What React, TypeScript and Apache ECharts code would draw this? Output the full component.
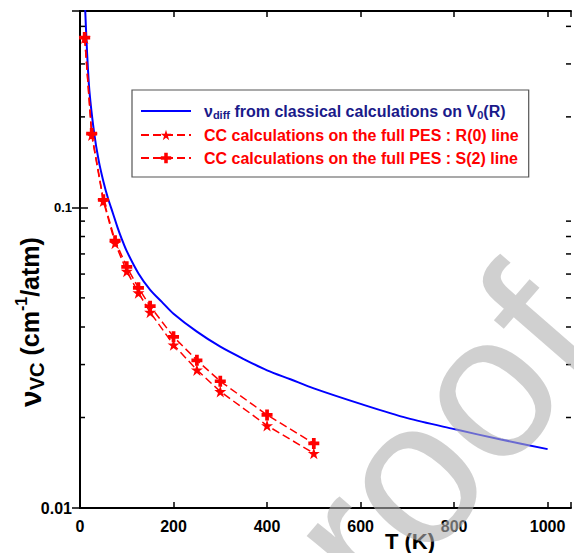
import { useEffect, useRef } from "react";
import * as echarts from "echarts";

// classical curve (blue)
const T_CLASSICAL = [10, 15, 20, 30, 40, 50, 60, 70, 80, 90, 100, 125, 150, 175, 200, 250, 300, 350, 400, 450, 500, 600, 700, 800, 900, 1000];
const V_CLASSICAL = [0.5, 0.33, 0.245, 0.178, 0.143, 0.122, 0.107, 0.096, 0.086, 0.078, 0.0715, 0.0603, 0.0532, 0.0485, 0.0443, 0.0386, 0.0344, 0.0313, 0.0287, 0.0268, 0.025, 0.0222, 0.0199, 0.0183, 0.0169, 0.0157];

// CC calculations (red)
const T_CC = [10, 25, 50, 75, 100, 125, 150, 200, 250, 300, 400, 500];
const V_R0 = [0.366, 0.174, 0.105, 0.076, 0.0613, 0.052, 0.0448, 0.0349, 0.0288, 0.0244, 0.0188, 0.0152];
const V_S2 = [0.367, 0.176, 0.106, 0.0775, 0.0634, 0.054, 0.0469, 0.0371, 0.031, 0.0264, 0.0204, 0.0164];

const MINOR_Y = [0.02, 0.03, 0.04, 0.05, 0.06, 0.07, 0.08, 0.09, 0.2, 0.3, 0.4];

const NAME_CLASSICAL = "vdiff from classical calculations on V0(R)";
const NAME_R0 = "CC calculations on the full PES : R(0) line";
const NAME_S2 = "CC calculations on the full PES : S(2) line";

const FONT = '"Liberation Sans", Arial, sans-serif';
const STAR =
  "path://M50,2 L61.8,38.2 L99.9,38.2 L69.1,60.6 L80.9,96.8 L50,74.4 L19.1,96.8 L30.9,60.6 L0.1,38.2 L38.2,38.2 Z";
const PLUS = "path://M3.3,0h3.4v3.3h3.3v3.4h-3.3v3.3h-3.4v-3.3h-3.3v-3.4h3.3z";

const X_MAX = 1050;

const App: React.FC = () => {
  const chartRef = useRef<HTMLDivElement>(null);

  useEffect(() => {
    if (!chartRef.current) return;
    const chart = echarts.init(chartRef.current, undefined, { renderer: "svg" });

    const axisLine = { show: true, lineStyle: { color: "#000", width: 2 } };

    const option = {
      animation: false,
      grid: { left: 80, right: -3, top: 11, bottom: 45 },
      legend: {
        left: 132,
        top: 90,
        orient: "vertical",
        selectedMode: false,
        padding: [11, 10, 11, 8],
        itemGap: 7,
        itemWidth: 50,
        itemHeight: 13,
        borderColor: "#555",
        borderWidth: 1.2,
        textStyle: { fontFamily: FONT, fontSize: 16, fontWeight: "bold", padding: [0, 0, 0, 8] },
        formatter: (name: string) =>
          name === NAME_CLASSICAL
            ? "{t|\u03bd}{s|diff}{t| from classical calculations on V}{s|0}{t|(R)}"
            : name,
        data: [
          {
            name: NAME_CLASSICAL,
            itemStyle: { opacity: 0 },
            textStyle: {
              color: "#1a1a8a",
              rich: {
                t: { fontFamily: FONT, fontSize: 16, fontWeight: "bold", color: "#1a1a8a", lineHeight: 18 },
                s: { fontFamily: FONT, fontSize: 11, fontWeight: "bold", color: "#1a1a8a", lineHeight: 18, verticalAlign: "bottom", padding: [8, 0, 0, 0] },
              },
            },
          },
          { name: NAME_R0, textStyle: { color: "#ff0000" } },
          { name: NAME_S2, textStyle: { color: "#ff0000" } },
        ],
      },
      xAxis: [
        {
          type: "value",
          min: 0,
          max: X_MAX,
          interval: 200,
          axisLine,
          axisTick: { inside: true, length: 6, lineStyle: { color: "#000", width: 1.5 } },
          splitLine: { show: false },
          axisLabel: {
            fontFamily: FONT,
            fontSize: 16,
            fontWeight: "bold",
            color: "#000",
            margin: 10,
            formatter: (v: number) => (v % 200 === 0 ? String(v) : ""),
          },
        },
        {
          type: "value",
          position: "top",
          min: 0,
          max: X_MAX,
          interval: 200,
          axisLine,
          axisTick: { inside: true, length: 6, lineStyle: { color: "#000", width: 1.5 } },
          splitLine: { show: false },
          axisLabel: { show: false },
        },
      ],
      yAxis: [
        {
          type: "log",
          logBase: 10,
          min: 0.01,
          max: 0.45,
          axisLine,
          axisTick: { inside: true, length: 8, lineStyle: { color: "#000", width: 1.5 } },
          splitLine: { show: false },
          axisLabel: {
            fontFamily: FONT,
            fontWeight: "bold",
            color: "#000",
            margin: 8,
            formatter: (v: number) => {
              if (Math.abs(v - 0.01) < 1e-6) return "{b|0.01}";
              if (Math.abs(v - 0.1) < 1e-6) return "{s|0.1}";
              return "";
            },
            rich: {
              b: { fontFamily: FONT, fontWeight: "bold", fontSize: 16, color: "#000" },
              s: { fontFamily: FONT, fontWeight: "bold", fontSize: 13, color: "#000" },
            },
          },
        },
        {
          type: "log",
          logBase: 10,
          position: "right",
          min: 0.01,
          max: 0.45,
          axisLine,
          axisTick: { inside: true, length: 8, lineStyle: { color: "#000", width: 1.5 } },
          splitLine: { show: false },
          axisLabel: { show: false },
        },
      ],
      series: [
        {
          name: NAME_CLASSICAL,
          type: "line",
          data: T_CLASSICAL.map((t, i) => [t, V_CLASSICAL[i]]),
          symbol: "none",
          smooth: 0.3,
          lineStyle: { color: "#0000ff", width: 2 },
          itemStyle: { color: "#0000ff" },
          z: 3,
        },
        {
          name: NAME_R0,
          type: "line",
          data: T_CC.map((t, i) => [t, V_R0[i]]),
          symbol: STAR,
          symbolSize: 12,
          lineStyle: { color: "#ff0000", width: 1.5, type: [8, 4] },
          itemStyle: { color: "#ff0000" },
          z: 4,
        },
        {
          name: NAME_S2,
          type: "line",
          data: T_CC.map((t, i) => [t, V_S2[i]]),
          symbol: PLUS,
          symbolSize: 11,
          lineStyle: { color: "#ff0000", width: 1.5, type: [8, 4] },
          itemStyle: { color: "#ff0000" },
          z: 4,
        },
        {
          name: "minor",
          type: "custom",
          clip: false,
          silent: true,
          data: MINOR_Y.map((v) => [0, v]),
          encode: { x: 0, y: 1 },
          renderItem: (_params: any, api: any) => {
            const v = api.value(1);
            const l = api.coord([0, v]);
            const r = api.coord([X_MAX, v]);
            const style = { stroke: "#000", lineWidth: 1.5 };
            return {
              type: "group",
              children: [
                { type: "line", shape: { x1: l[0], y1: l[1], x2: l[0] + 5, y2: l[1] }, style },
                { type: "line", shape: { x1: r[0], y1: r[1], x2: r[0] - 5, y2: r[1] }, style },
              ],
            };
          },
        },
      ],
      graphic: [
        {
          type: "text",
          x: 410,
          y: 541,
          style: {
            text: "T (K)",
            font: `bold 22px ${FONT}`,
            fill: "#000",
            align: "center",
            verticalAlign: "middle",
          },
        },
        {
          type: "text",
          x: 30,
          y: 322,
          rotation: Math.PI / 2,
          style: {
            text: "{a|\u03bd}{b|VC}{c| (cm}{d|-1}{c|/atm)}",
            align: "center",
            verticalAlign: "middle",
            rich: {
              a: { font: `bold 30px ${FONT}`, fill: "#000", lineHeight: 34 },
              b: { font: `bold 20px ${FONT}`, fill: "#000", lineHeight: 34, verticalAlign: "bottom", padding: [10, 0, 0, 0] },
              c: { font: `bold 25px ${FONT}`, fill: "#000", lineHeight: 34 },
              d: { font: `bold 16px ${FONT}`, fill: "#000", lineHeight: 34, verticalAlign: "top", padding: [0, 0, 12, 0] },
            },
          },
        },
        {
          type: "text",
          x: 404,
          y: 480,
          rotation: (49 * Math.PI) / 180,
          z: 100,
          silent: true,
          style: {
            text: "proof",
            font: `205px ${FONT}`,
            fill: "#b0b0b0",
            opacity: 0.6,
            align: "center",
            verticalAlign: "middle",
          },
        },
      ],
    };

    chart.setOption(option as any);
    return () => {
      chart.dispose();
    };
  }, []);

  return (
    <div
      ref={chartRef}
      style={{ position: "fixed", left: 0, top: 0, width: "574px", height: "553px", background: "#fff" }}
    />
  );
};

export default App;
